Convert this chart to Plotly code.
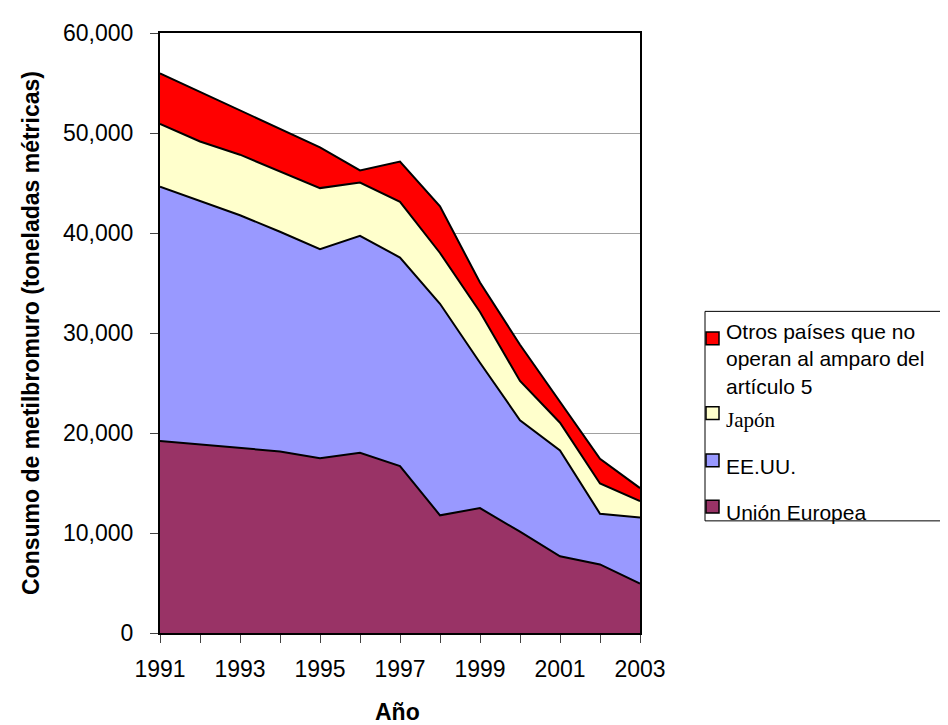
import plotly.graph_objects as go

years = [1991, 1992, 1993, 1994, 1995, 1996, 1997, 1998, 1999, 2000, 2001, 2002, 2003]
year_labels = ["1991", "", "1993", "", "1995", "", "1997", "", "1999", "", "2001", "", "2003"]

union_europea = [19200, 18850, 18560, 18160, 17480, 18030, 16690, 11770, 12490, 10130, 7670, 6860, 4950]
ee_uu = [25430, 24330, 23210, 21970, 20910, 21680, 20860, 21150, 14530, 11150, 10580, 5070, 6590]
japon = [6290, 5970, 6060, 6070, 6100, 5340, 5560, 5080, 5080, 3930, 2780, 3020, 1640]
otros = [5050, 4980, 4430, 4260, 4070, 1210, 4030, 4660, 2950, 3610, 2060, 2460, 1310]

series_names = ["Unión Europea", "EE.UU.", "Japón",
                "Otros países que no<br>operan al amparo del<br>artículo 5"]
series_values = [union_europea, ee_uu, japon, otros]
series_colors = ["#993366", "#9999FF", "#FFFFCC", "#FF0000"]

y_ticks = [0, 10000, 20000, 30000, 40000, 50000, 60000]

# The page body has an 8px margin, so the figure is shifted by 8px.
OFF = 8
SCREEN_W, SCREEN_H = 948, 725
W, H = SCREEN_W - OFF, SCREEN_H - OFF
L, R, T, B = 160, 640, 23, 633  # plot area in screen pixels

def px_x(px):
    return (px - L) / (R - L)

def px_y(py):
    return (B - py) / (B - T)

ARIAL = "Arial, Liberation Sans, sans-serif"

fig = go.Figure()
for name, vals, col in zip(series_names, series_values, series_colors):
    fig.add_trace(go.Scatter(
        x=years, y=vals, name=name, mode="lines", stackgroup="one",
        fillcolor=col, line=dict(color="black", width=2),
        showlegend=False, hoverinfo="x+y+name",
    ))

fig.update_layout(
    width=W, height=H,
    margin=dict(l=L - OFF, r=W - (R - OFF), t=T - OFF, b=H - (B - OFF), pad=0),
    paper_bgcolor="white", plot_bgcolor="white",
    font=dict(family=ARIAL, size=23, color="black"),
    showlegend=False,
)

fig.update_xaxes(
    range=[years[0], years[-1]], tickvals=years, ticktext=year_labels,
    showline=True, linecolor="black", linewidth=2, mirror=True,
    ticks="outside", ticklen=8, tickcolor="#444", tickwidth=1,
    showgrid=False, zeroline=False, ticklabelstandoff=6,
    tickfont=dict(family=ARIAL, size=23, color="black"),
)
fig.update_yaxes(
    range=[0, 60000], tickvals=y_ticks, tickformat=",d",
    showline=True, linecolor="black", linewidth=2, mirror=True,
    ticks="outside", ticklen=8, tickcolor="#444", tickwidth=1,
    showgrid=True, gridcolor="#a0a0a0", gridwidth=1, zeroline=False,
    ticklabelstandoff=12,
    tickfont=dict(family=ARIAL, size=23, color="black"),
)

# Axis titles
fig.add_annotation(
    text="<b>Año</b>", xref="paper", yref="paper",
    x=px_x(397), y=px_y(713), xanchor="center", yanchor="middle",
    showarrow=False, font=dict(family=ARIAL, size=23, color="black"),
)
fig.add_annotation(
    text="<b>Consumo de metilbromuro (toneladas métricas)</b>",
    xref="paper", yref="paper", x=px_x(31), y=0.5,
    xanchor="center", yanchor="middle", textangle=-90,
    showarrow=False, font=dict(family=ARIAL, size=23, color="black"),
)

# Manual legend (box partially outside the figure on the right)
fig.add_shape(type="rect", xref="paper", yref="paper",
              x0=px_x(705), x1=px_x(990), y0=px_y(306), y1=px_y(519),
              line=dict(color="black", width=1), fillcolor="rgba(0,0,0,0)")

legend_items = [
    (3, 327, 354, "Otros países que no<br>operan al amparo del<br>artículo 5", ARIAL),
    (2, 403, 416, "Japón", "Times New Roman, Liberation Serif, serif"),
    (1, 451, 464, "EE.UU.", ARIAL),
    (0, 498, 510, "Unión Europea", ARIAL),
]
for idx, sq_top, text_mid, label, fam in legend_items:
    fig.add_shape(type="rect", xref="paper", yref="paper",
                  x0=px_x(706), x1=px_x(719), y0=px_y(sq_top), y1=px_y(sq_top + 13),
                  line=dict(color="black", width=1.5), fillcolor=series_colors[idx])
    fig.add_annotation(
        text=label, xref="paper", yref="paper", x=px_x(724), y=px_y(text_mid),
        xanchor="left", yanchor="middle", align="left", showarrow=False,
        font=dict(family=fam, size=21, color="black"),
    )

fig.write_html("out.html")
